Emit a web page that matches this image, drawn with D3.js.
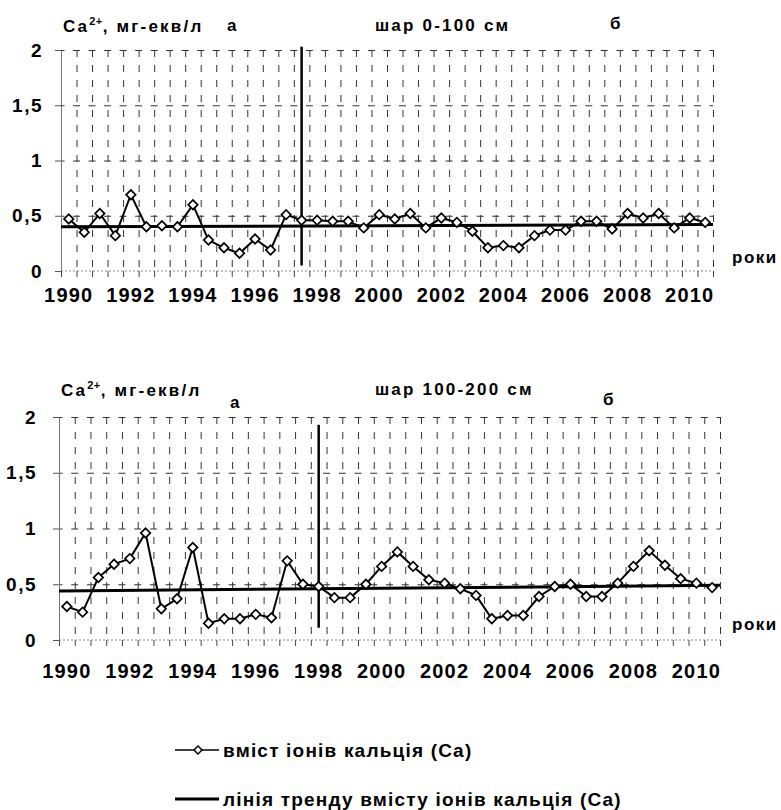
<!DOCTYPE html>
<html>
<head>
<meta charset="utf-8">
<script src="https://cdn.jsdelivr.net/npm/d3@7"></script>
<style>
  body { margin: 0; background: #fff; }
  svg { display: block; font-family: "Liberation Sans", Arial, sans-serif; font-weight: bold; }
</style>
</head>
<body>
<svg id="chart" width="781" height="810"></svg>
<script>
const yearLabels = ['1990', '1992', '1994', '1996', '1998', '2000', '2002', '2004', '2006', '2008', '2010'];
const yTicks = [0, 0.5, 1, 1.5, 2];

// вміст іонів кальція, шар 0-100 см (по півроках)
const calciumTop = [
  0.47, 0.35, 0.52, 0.32, 0.69, 0.40, 0.41, 0.40, 0.60, 0.28, 0.21, 0.16, 0.29, 0.19,
  0.51, 0.46, 0.46, 0.45, 0.45, 0.39, 0.51, 0.47, 0.52, 0.39, 0.48, 0.44, 0.36, 0.21,
  0.23, 0.21, 0.32, 0.37, 0.37, 0.45, 0.45, 0.38, 0.52, 0.48, 0.52, 0.39, 0.48, 0.44,
];

// вміст іонів кальція, шар 100-200 см
const calciumBottom = [
  0.30, 0.25, 0.56, 0.68, 0.73, 0.96, 0.28, 0.37, 0.83, 0.15, 0.19, 0.19, 0.23, 0.20,
  0.71, 0.50, 0.48, 0.38, 0.38, 0.50, 0.66, 0.79, 0.66, 0.54, 0.51, 0.46, 0.40, 0.19,
  0.22, 0.22, 0.39, 0.48, 0.50, 0.39, 0.39, 0.51, 0.66, 0.80, 0.67, 0.55, 0.51, 0.47,
];

// trend line values at left and right edge
const trendTop = [0.40, 0.42];
const trendBottom = [0.44, 0.49];

const legendLabels = ['вміст іонів кальція (Ca)', 'лінія тренду вмісту іонів кальція (Ca)'];

const font = '"Liberation Sans", Arial, sans-serif';

const panels = [
  {
    values: calciumTop, trend: trendTop, layer: 'шар 0-100 см',
    split: 15, splitRange: [2.03, 0.05],
    left: 61, right: 713, top: 50, bottom: 271,
    yPad: 12, xPad: 17,
    titleY: 32, aX: 227, aY: 31, layerY: 31, bX: 610, bY: 29, rokiY: 263,
  },
  {
    values: calciumBottom, trend: trendBottom, layer: 'шар 100-200 см',
    split: 16, splitRange: [1.93, 0.11],
    left: 59, right: 720, top: 417, bottom: 640,
    yPad: 16, xPad: 24,
    titleY: 396, aX: 230, aY: 408, layerY: 395, bX: 603, bY: 405, rokiY: 630,
  },
];

const svg = d3.select('#chart');

svg.append('rect').attr('width', 781).attr('height', 810).attr('fill', '#fff');

function drawPanel(p) {
  const n = p.values.length;
  const x = d3.scaleBand().domain(d3.range(n)).range([p.left, p.right]);
  const xEdge = d3.scaleLinear().domain([0, n]).range([p.left, p.right]);
  const y = d3.scaleLinear().domain([0, 2]).range([p.bottom, p.top]);
  const w = p.right - p.left;
  const h = p.bottom - p.top;
  const bw = x.bandwidth();

  //
  // GRID
  //

  svg.append('g')
    .attr('transform', `translate(0,${p.bottom})`)
    .call(d3.axisBottom(xEdge).tickValues(d3.range(1, n + 1)).tickSize(-h).tickFormat(''))
    .call((g) => g.select('.domain').remove())
    .call((g) => g.selectAll('line')
      .attr('y1', -h).attr('y2', 0)
      .attr('stroke', '#333').attr('stroke-width', 1)
      .attr('stroke-dasharray', '7,8'));

  svg.append('g')
    .attr('transform', `translate(${p.left},0)`)
    .call(d3.axisLeft(y).tickValues(yTicks.filter((d) => d > 0)).tickSize(-w).tickFormat(''))
    .call((g) => g.select('.domain').remove())
    .call((g) => g.selectAll('line')
      .attr('stroke', '#333').attr('stroke-width', 1)
      .attr('stroke-dasharray', `7,${bw - 7}`)
      .attr('stroke-dashoffset', 3.5));

  // zero line
  svg.append('line')
    .attr('x1', p.left).attr('x2', p.right)
    .attr('y1', y(0)).attr('y2', y(0))
    .attr('stroke', '#888').attr('stroke-dasharray', '2,2');

  // x tick marks
  svg.append('g')
    .attr('transform', `translate(0,${p.bottom})`)
    .call(d3.axisBottom(xEdge).tickValues(d3.range(n + 1)).tickSize(6).tickFormat(''))
    .call((g) => g.select('.domain').remove())
    .call((g) => g.selectAll('line').attr('stroke', '#444'));

  //
  // Y AXIS
  //

  svg.append('g')
    .attr('transform', `translate(${p.left},0)`)
    .call(d3.axisLeft(y).tickValues(yTicks).tickSize(6).tickSizeOuter(0)
      .tickPadding(p.yPad).tickFormat((d) => String(d).replace('.', ',')))
    .call((g) => g.select('.domain').attr('stroke', '#777'))
    .call((g) => g.selectAll('line').attr('stroke', '#555'))
    .call((g) => g.selectAll('text')
      .attr('fill', '#000').attr('font-size', 19).attr('letter-spacing', 1.5)
      .attr('font-family', font).attr('font-weight', 'bold'));

  //
  // X AXIS LABELS
  //

  svg.append('g')
    .attr('transform', `translate(0,${p.bottom})`)
    .call(d3.axisBottom(x).tickValues(d3.range(0, n, 4)).tickSize(0)
      .tickPadding(p.xPad).tickFormat((d, i) => yearLabels[i]))
    .call((g) => g.select('.domain').remove())
    .call((g) => g.selectAll('text')
      .attr('fill', '#000').attr('font-size', 20).attr('letter-spacing', 1.2)
      .attr('font-family', font).attr('font-weight', 'bold'));

  //
  // TREND LINE
  //

  svg.append('path')
    .datum(p.trend)
    .attr('fill', 'none')
    .attr('stroke', '#000')
    .attr('stroke-width', 3)
    .attr('d', d3.line().x((d, i) => xEdge(i * n)).y((d) => y(d)));

  //
  // SPLIT LINE
  //

  svg.append('line')
    .attr('x1', x(p.split) + bw / 2).attr('x2', x(p.split) + bw / 2)
    .attr('y1', y(p.splitRange[0])).attr('y2', y(p.splitRange[1]))
    .attr('stroke', '#000').attr('stroke-width', 2.5);

  //
  // SERIES
  //

  svg.append('path')
    .datum(p.values)
    .attr('fill', 'none')
    .attr('stroke', '#000')
    .attr('stroke-width', 2)
    .attr('d', d3.line().x((d, i) => x(i) + bw / 2).y((d) => y(d)));

  svg.append('g')
    .selectAll('path')
    .data(p.values)
    .join('path')
    .attr('transform', (d, i) => `translate(${x(i) + bw / 2},${y(d)}) rotate(45)`)
    .attr('d', d3.symbol(d3.symbolSquare, 45))
    .attr('fill', '#fff')
    .attr('stroke', '#000')
    .attr('stroke-width', 1.7);

  //
  // TEXTS
  //

  const title = svg.append('text')
    .attr('x', p.left + 2).attr('y', p.titleY)
    .attr('font-size', 17).attr('letter-spacing', 2.2);
  title.append('tspan').text('Ca');
  title.append('tspan').attr('font-size', 11).attr('letter-spacing', 0.5).attr('dy', -7).text('2+');
  title.append('tspan').attr('dy', 7).text(', мг-екв/л');

  svg.append('text').attr('x', p.aX).attr('y', p.aY).attr('font-size', 17).text('а');
  svg.append('text').attr('x', 375).attr('y', p.layerY)
    .attr('font-size', 17).attr('letter-spacing', 2.2).text(p.layer);
  svg.append('text').attr('x', p.bX).attr('y', p.bY).attr('font-size', 17).text('б');
  svg.append('text').attr('x', 732).attr('y', p.rokiY)
    .attr('font-size', 17).attr('letter-spacing', 1.5).text('роки');
}

panels.forEach(drawPanel);

//
// LEGEND
//

const legend = svg.append('g').attr('transform', 'translate(175,0)');

legend.append('line')
  .attr('x1', 0).attr('x2', 44).attr('y1', 750).attr('y2', 750)
  .attr('stroke', '#000').attr('stroke-width', 1.5);
legend.append('path')
  .attr('transform', 'translate(23,750) rotate(45)')
  .attr('d', d3.symbol(d3.symbolSquare, 32))
  .attr('fill', '#fff').attr('stroke', '#000').attr('stroke-width', 1.5);
legend.append('line')
  .attr('x1', 0).attr('x2', 44).attr('y1', 799).attr('y2', 799)
  .attr('stroke', '#000').attr('stroke-width', 3);

legend.selectAll('text.lbl')
  .data(legendLabels)
  .join('text')
  .attr('class', 'lbl')
  .attr('x', 48)
  .attr('y', (d, i) => 757 + i * 49)
  .attr('font-size', 19)
  .attr('letter-spacing', 1.2)
  .text((d) => d);
</script>
</body>
</html>
